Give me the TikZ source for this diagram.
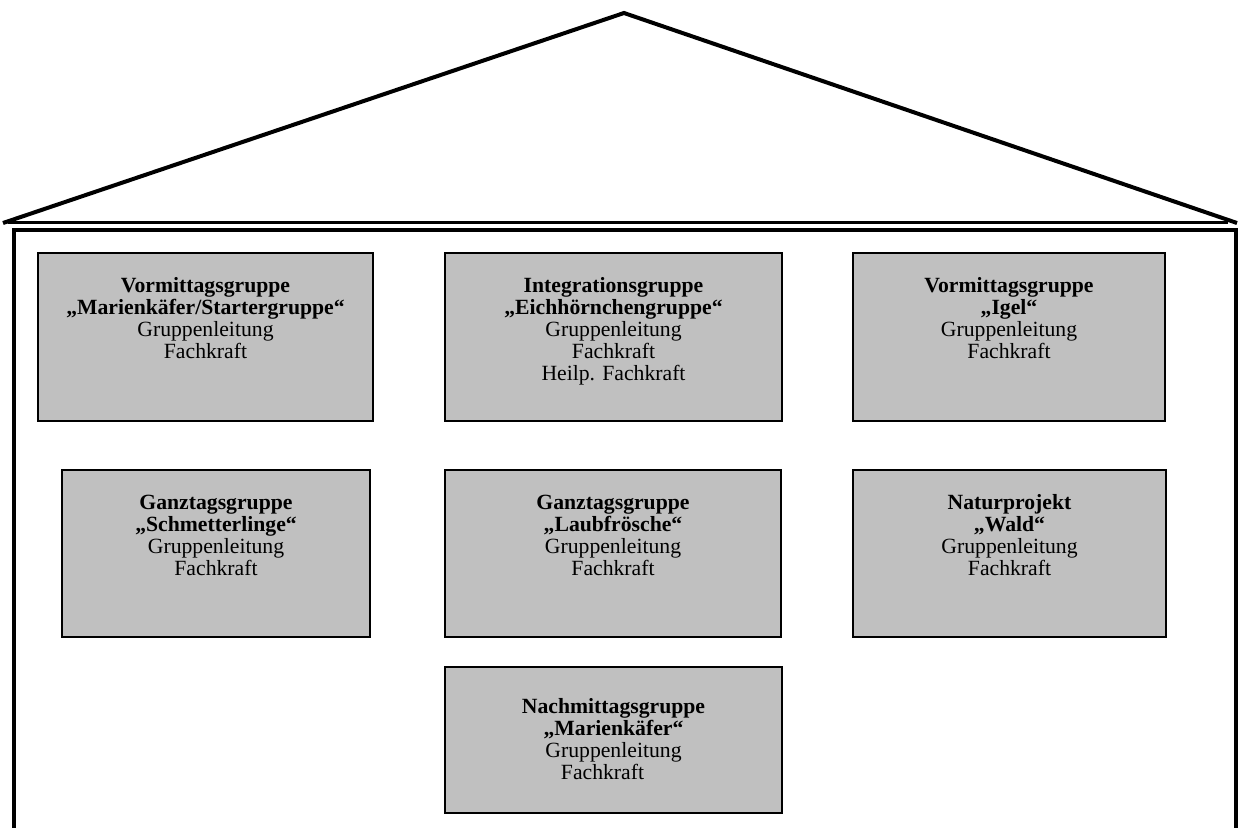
\documentclass[tikz,border=0pt]{standalone}
\usepackage{fontspec}
\setmainfont{Liberation Serif}
\definecolor{boxgray}{RGB}{192,192,192}
\begin{document}
\begin{tikzpicture}[x=1pt,y=-1pt,
  grp/.style={draw=black,line width=2pt,fill=boxgray,inner sep=0pt,outer sep=0pt,anchor=north west},
  lbl/.style={anchor=north,inner sep=0pt,align=center,font=\fontsize{21.7}{22}\selectfont},
  heavy/.style={line width=4pt,line join=miter}
]
\useasboundingbox (0,0) rectangle (1238,827);
% roof
\coordinate (rl) at (3,223);
\coordinate (apex) at (624,13);
\coordinate (rr) at (1237,223);
\draw[heavy] (rl) -- (apex) -- (rr);
\draw[line width=3pt] (8,222) -- (1228,222);
% walls
\draw[heavy] (13.5,832) -- (13.5,229.5) -- (1236,229.5) -- (1236,832);
% boxes
\node[grp,minimum width=335pt,minimum height=168pt] (b1) at (38,253) {};
\node[grp,minimum width=337pt,minimum height=168pt] (b2) at (445,253) {};
\node[grp,minimum width=312pt,minimum height=168pt] (b3) at (853,253) {};
\node[grp,minimum width=308pt,minimum height=167pt] (b4) at (62,470) {};
\node[grp,minimum width=336pt,minimum height=167pt] (b5) at (445,470) {};
\node[grp,minimum width=313pt,minimum height=167pt] (b6) at (853,470) {};
\node[grp,minimum width=337pt,minimum height=146pt] (b7) at (445,667) {};
% texts
\node[lbl] (t1) at ([yshift=-23.6pt]b1.north) {\strut\textbf{Vormittagsgruppe}\\\textbf{„Marienkäfer/Startergruppe“}\\Gruppenleitung\\Fachkraft};
\node[lbl] (t2) at ([yshift=-23.6pt]b2.north) {\strut\textbf{Integrationsgruppe}\\\textbf{„Eichhörnchengruppe“}\\Gruppenleitung\\Fachkraft\\Heilp. Fachkraft};
\node[lbl] (t3) at ([yshift=-23.6pt]b3.north) {\strut\textbf{Vormittagsgruppe}\\\textbf{„Igel“}\\Gruppenleitung\\Fachkraft};
\node[lbl] (t4) at ([yshift=-23.6pt]b4.north) {\strut\textbf{Ganztagsgruppe}\\\textbf{„Schmetterlinge“}\\Gruppenleitung\\Fachkraft};
\node[lbl] (t5) at ([yshift=-23.6pt]b5.north) {\strut\textbf{Ganztagsgruppe}\\\textbf{„Laubfrösche“}\\Gruppenleitung\\Fachkraft};
\node[lbl] (t6) at ([yshift=-23.6pt]b6.north) {\strut\textbf{Naturprojekt}\\\textbf{„Wald“}\\Gruppenleitung\\Fachkraft};
\node[lbl] (t7) at ([yshift=-30.6pt]b7.north) {\strut\textbf{Nachmittagsgruppe}\\\textbf{„Marienkäfer“}\\Gruppenleitung\\Fachkraft\hspace*{22pt}};
\end{tikzpicture}
\end{document}
